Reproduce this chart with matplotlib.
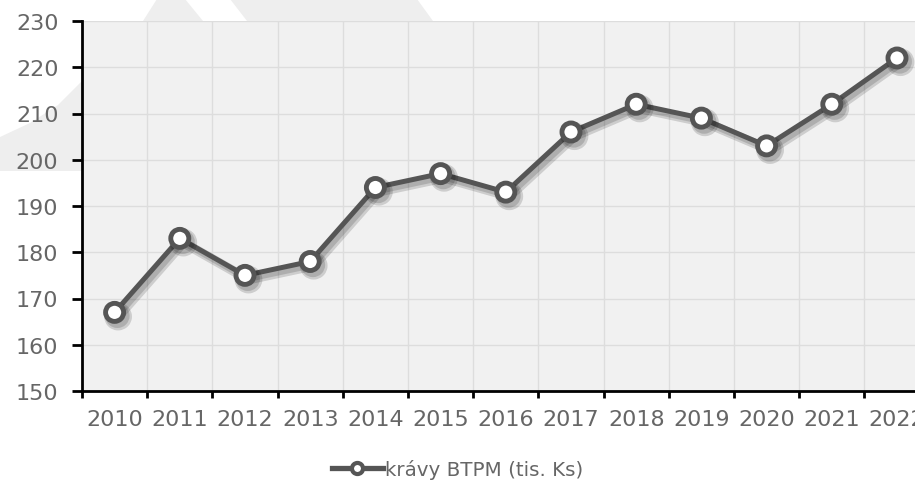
import matplotlib
matplotlib.use("Agg")
import matplotlib.pyplot as plt
import matplotlib.patheffects as pe
from matplotlib.patches import Polygon
from matplotlib.lines import Line2D

# ----------------------------
# DATA
# ----------------------------
years = ["2010", "2011", "2012", "2013", "2014", "2015", "2016",
         "2017", "2018", "2019", "2020", "2021", "2022"]
values = [167, 183, 175, 178, 194, 197, 193, 206, 212, 209, 203, 212, 222]
series_name = "krávy BTPM (tis. Ks)"
y_ticks = [150, 160, 170, 180, 190, 200, 210, 220, 230]

W, H = 915, 481
text_col = "#666666"
line_col = "#555555"

fig = plt.figure(figsize=(W / 100, H / 100), dpi=100)
fig.patch.set_facecolor("white")


def px(pts):
    return [(x / W, 1 - y / H) for x, y in pts]


# background watermark pieces (mostly hidden behind the plot area)
wm = [
    [(0, 138), (30, 124), (58, 106), (86, 78), (86, 172), (0, 172)],
    [(143, 22), (157, 0), (185, 0), (203, 22)],
    [(247, 22), (230, 0), (417, 0), (433, 22)],
]
for poly in wm:
    fig.patches.append(Polygon(px(poly), closed=True, transform=fig.transFigure,
                               facecolor="#eeeeee", edgecolor="none", zorder=-5))

# plot area: extends past the right edge of the image like the original
left, right, top, bottom = 82, 82 + 13 * 65.2, 22, 392
ax = fig.add_axes([left / W, 1 - bottom / H, (right - left) / W, (bottom - top) / H])
ax.set_zorder(1)
ax.set_facecolor("#f1f1f1")

x = [i + 0.5 for i in range(len(years))]
ax.plot(x, values, color=line_col, lw=3.6, marker="o", markersize=13,
        markerfacecolor="white", markeredgecolor=line_col, markeredgewidth=3.5,
        zorder=3, clip_on=False,
        path_effects=[pe.SimpleLineShadow(offset=(2.5, -3), shadow_color="black",
                                          alpha=0.15, linewidth=7),
                      pe.SimpleLineShadow(offset=(2, -2.5), shadow_color="black",
                                          alpha=0.15, linewidth=4.5),
                      pe.Normal()])

ax.set_xlim(0, len(years))
ax.set_ylim(150, 230)
ax.set_yticks(y_ticks)
ax.set_xticks(range(len(years) + 1))
ax.set_xticklabels([])
ax.set_xticks(x, minor=True)
ax.set_xticklabels(years, minor=True)

ax.grid(True, color="#dddddd", lw=1)
ax.set_axisbelow(True)
for s in ["top", "right"]:
    ax.spines[s].set_visible(False)
for s in ["left", "bottom"]:
    ax.spines[s].set_color("black")
    ax.spines[s].set_linewidth(2)

ax.tick_params(axis="y", length=7, width=2, colors="black", labelcolor=text_col,
               labelsize=16, pad=10)
ax.tick_params(axis="x", which="major", length=5, width=2, colors="black")
ax.tick_params(axis="x", which="minor", length=0, labelcolor=text_col,
               labelsize=16, pad=13)

# legend
handle = Line2D([], [], color=line_col, lw=3.8, marker="o", markersize=8,
                markerfacecolor="white", markeredgecolor=line_col, markeredgewidth=3)
leg = fig.legend([handle], [series_name], loc="center", bbox_to_anchor=(0.5, 1 - 470 / H),
                 frameon=False, fontsize=14.3, handlelength=2.6, handletextpad=0.1,
                 labelcolor=text_col)

plt.savefig("out.png", dpi=100)
